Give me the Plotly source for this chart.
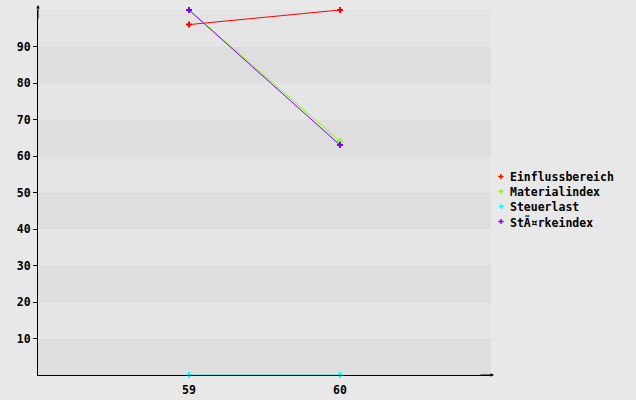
import plotly.graph_objects as go

x_vals = [59, 60]
series_names = ["Einflussbereich", "Materialindex", "Steuerlast", "StÃ¤rkeindex"]
series_values = [
    [96, 100],
    [100, 64],
    [0, 0],
    [100, 63],
]
series_colors = ["#ff0000", "#80ff00", "#00ffff", "#8000ff"]
y_ticks = [10, 20, 30, 40, 50, 60, 70, 80, 90]

font = "DejaVu Sans Mono"

fig = go.Figure()
for name, vals, col in zip(series_names, series_values, series_colors):
    fig.add_trace(go.Scatter(x=x_vals, y=vals, name=name, mode="lines+markers",
                             line=dict(color=col, width=1),
                             marker=dict(color=col, symbol="cross", size=5),
                             cliponaxis=False))

# alternating grey bands every 10 units
shapes = []
for lo in range(0, 100, 10):
    shapes.append(dict(type="rect", xref="x domain", yref="y", x0=0, x1=1, y0=lo, y1=lo + 10,
                       fillcolor="#dedede" if (lo // 10) % 2 == 0 else "#e4e4e4",
                       line_width=0, layer="below"))

# axis arrows
fig.add_annotation(xref="paper", yref="paper", x=0, y=1, ax=0, ay=15, yshift=5,
                   showarrow=True, arrowhead=2, arrowsize=0.7, arrowwidth=1, arrowcolor="black", text="")
fig.add_annotation(xref="paper", yref="paper", x=1, y=0, ax=-15, ay=0, xshift=3,
                   showarrow=True, arrowhead=2, arrowsize=0.7, arrowwidth=1, arrowcolor="black", text="")

# compact legend: coloured marker + name, 15px per row
plot_h = 400 - 10 - 25
for i, (name, col) in enumerate(zip(series_names, series_colors)):
    yy = (375 - (177 + 15 * i)) / plot_h
    fig.add_annotation(xref="paper", yref="paper", x=1.0375, y=yy, xanchor="left", yanchor="middle",
                       text=f"<b>{name}</b>", showarrow=False, font=dict(family=font, size=11.5))
    fig.add_annotation(xref="paper", yref="paper", x=(501 - 38) / 453, y=yy, xanchor="center",
                       yanchor="middle", text="✚", showarrow=False,
                       font=dict(family="DejaVu Sans", size=7, color=col))

fig.update_layout(
    width=636, height=400,
    margin=dict(l=38, r=145, t=10, b=25, autoexpand=False),
    paper_bgcolor="#e8e8e8", plot_bgcolor="#e8e8e8",
    shapes=shapes,
    font=dict(family=font, size=11.5, color="black"),
    showlegend=False,
    xaxis=dict(range=[58, 61], tickvals=x_vals, ticktext=[f"<b>{v}</b>" for v in x_vals],
               showgrid=False, zeroline=False, showline=True, linecolor="black", linewidth=1,
               ticks="", ticklabelstandoff=4, automargin=False),
    yaxis=dict(range=[0, 100], tickvals=y_ticks, ticktext=[f"<b>{v}</b>" for v in y_ticks],
               showgrid=False, zeroline=False, showline=True, linecolor="black", linewidth=1,
               ticks="outside", ticklen=4, tickcolor="black", automargin=False),
)

# drop the page's default body margin so the figure sits at the window corner
fig.write_html("out.html", config={"displayModeBar": False},
               post_script="document.body.style.margin='0';")
